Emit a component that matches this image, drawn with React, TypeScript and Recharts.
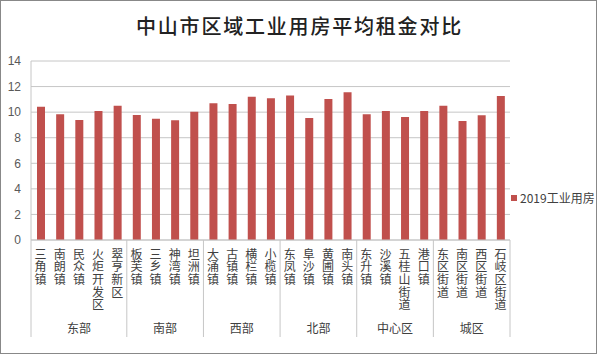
import React from 'react';
import { BarChart, Bar, XAxis, YAxis, CartesianGrid } from 'recharts';

const categories = ['三角镇', '南朗镇', '民众镇', '火炬开发区', '翠亨新区', '板芙镇', '三乡镇', '神湾镇', '坦洲镇', '大涌镇', '古镇镇', '横栏镇', '小榄镇', '东凤镇', '阜沙镇', '黄圃镇', '南头镇', '东升镇', '沙溪镇', '五桂山街道', '港口镇', '东区街道', '南区街道', '西区街道', '石岐区街道'];
const groups = ['东部', '东部', '东部', '东部', '东部', '南部', '南部', '南部', '南部', '西部', '西部', '西部', '西部', '北部', '北部', '北部', '北部', '中心区', '中心区', '中心区', '中心区', '城区', '城区', '城区', '城区'];
const values2019 = [10.42, 9.83, 9.38, 10.08, 10.5, 9.77, 9.49, 9.36, 10.03, 10.69, 10.63, 11.2, 11.08, 11.31, 9.54, 11.02, 11.55, 9.83, 10.08, 9.62, 10.08, 10.5, 9.3, 9.75, 11.26];
const yTicks = [0, 2, 4, 6, 8, 10, 12, 14];
const seriesName = '2019工业用房';
const seriesColor = '#c0504d';
const title = '中山市区域工业用房平均租金对比';

const data = categories.map((c, i) => ({ name: c, group: groups[i], v: values2019[i] }));

const CJK = '"Noto Sans CJK SC", "Noto Sans", sans-serif';
const GRID = '#c6c6c6';
const TEXT = '#404040';

const CatTick = (props: any) => {
  const { x, y, payload, index, width } = props;
  const bw = payload && payload.offset ? payload.offset * 2 : width / categories.length;
  const label: string = payload.value;
  const isGroupStart = index === 0 || groups[index] !== groups[index - 1];
  const isLast = index === categories.length - 1;
  let groupCenter = 0;
  if (isGroupStart) {
    let n = 0;
    while (index + n < groups.length && groups[index + n] === groups[index]) n++;
    groupCenter = x - bw / 2 + (n * bw) / 2;
  }
  const axisY = y - 8;
  return (
    <g>
      <text x={x} y={y} fontSize={12} fill={TEXT} fontFamily={CJK}
        style={{ writingMode: 'vertical-rl', letterSpacing: 0.7 } as any}>
        {label}
      </text>
      {isGroupStart && (
        <line x1={x - bw / 2} x2={x - bw / 2} y1={axisY} y2={axisY + 97} stroke={GRID} strokeWidth={1} />
      )}
      {isLast && (
        <line x1={x + bw / 2} x2={x + bw / 2} y1={axisY} y2={axisY + 97} stroke={GRID} strokeWidth={1} />
      )}
      {isGroupStart && (
        <text x={groupCenter} y={y + 85} textAnchor="middle" fontSize={12} fill={TEXT} fontFamily={CJK}>
          {groups[index]}
        </text>
      )}
    </g>
  );
};

export default function App() {
  return (
    <div style={{ position: 'absolute', left: 0, top: 0, width: 597, height: 354, boxSizing: 'border-box', border: '1px solid #888', background: '#fff' }}>
      <div style={{ position: 'absolute', left: 0, top: 10, width: 597, textAlign: 'center', fontFamily: CJK, fontWeight: 500, fontSize: 20, letterSpacing: 1.8, color: '#222', lineHeight: '30px' }}>
        {title}
      </div>
      <div style={{ position: 'absolute', left: -1, top: -1 }}>
        <BarChart width={597} height={354} data={data} margin={{ top: 61, right: 87, bottom: 0, left: 0 }}>
          <CartesianGrid vertical={false} stroke={GRID} />
          <XAxis dataKey="name" interval={0} tickLine={false} axisLine={{ stroke: GRID }} height={114} tick={<CatTick />} />
          <YAxis domain={[0, 14]} ticks={yTicks} width={31} tickLine={false} axisLine={{ stroke: GRID }} tickMargin={4}
            tick={{ fontSize: 12, fill: '#595959', fontFamily: '"Liberation Sans", sans-serif' }} interval={0} />
          <Bar dataKey="v" name={seriesName} fill={seriesColor} barSize={8} isAnimationActive={false} />
        </BarChart>
      </div>
      <div style={{ position: 'absolute', left: 510, top: 188, display: 'flex', alignItems: 'center', whiteSpace: 'nowrap' }}>
        <span style={{ display: 'inline-block', width: 6, height: 6, background: seriesColor, marginRight: 3 }} />
        <span style={{ fontSize: 12, color: TEXT, fontFamily: CJK }}>{seriesName}</span>
      </div>
    </div>
  );
}
